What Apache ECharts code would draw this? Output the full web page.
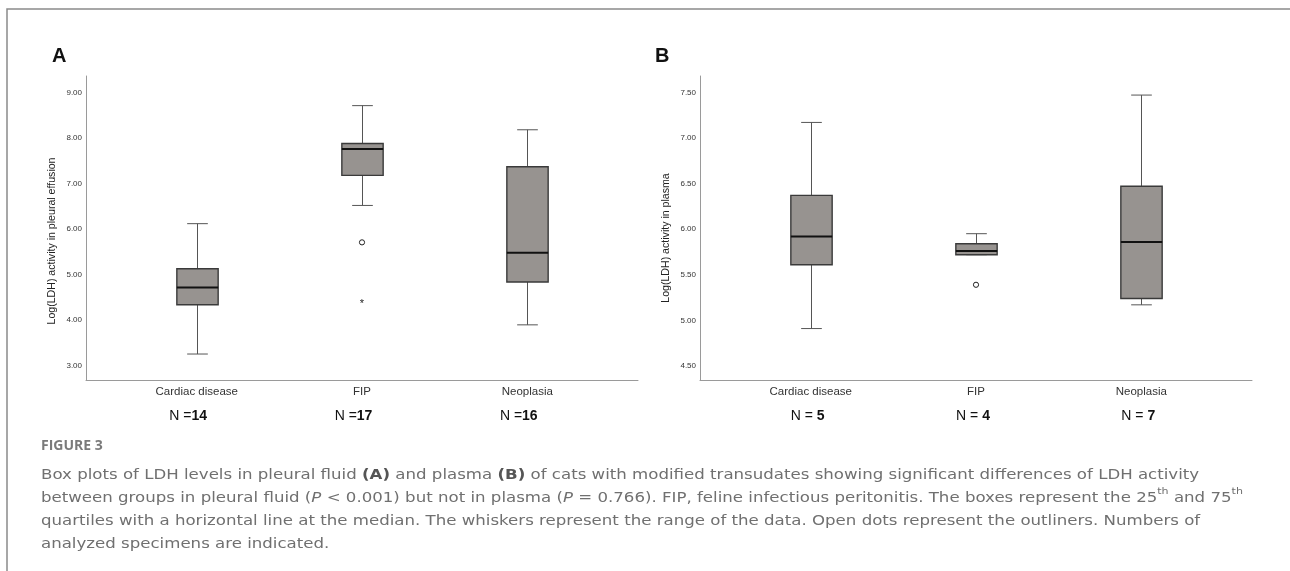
<!DOCTYPE html>
<html>
<head>
<meta charset="utf-8">
<script src="https://cdn.jsdelivr.net/npm/echarts@6/dist/echarts.min.js"></script>
<style>
  html, body { margin: 0; padding: 0; background: #fff; }
  #main { width: 1290px; height: 571px; }
</style>
</head>
<body>
<div id="main"></div>
<script>
// groups are placed at positions 1, 2, 3 of the x value axis
const groups = ['Cardiac disease', 'FIP', 'Neoplasia'];
const countsA = [14, 17, 16];
const countsB = [5, 4, 7];

// [min, Q1, median, Q3, max]
const boxA = [
  [3.26, 4.34, 4.72, 5.13, 6.12],
  [6.52, 7.18, 7.76, 7.88, 8.71],
  [3.90, 4.84, 5.48, 7.37, 8.18]
];
const boxB = [
  [4.91, 5.61, 5.92, 6.37, 7.17],
  [5.72, 5.72, 5.76, 5.84, 5.95],
  [5.17, 5.24, 5.86, 6.47, 7.47]
];

// [group position, value, marker]
const outliersA = [[2, 5.71, 'o'], [2, 4.40, '*']];
const outliersB = [[2, 5.39, 'o']];

const yTicksA = { min: 2.69, max: 9.36, step: 1 };
const yTicksB = { min: 4.346, max: 7.679, step: 0.5 };

const myChart = echarts.init(document.getElementById('main'));

function renderBox(params, api) {
  const x = api.value(0);
  const lo = api.coord([x, api.value(1)]);
  const q1 = api.coord([x, api.value(2)]);
  const md = api.coord([x, api.value(3)]);
  const q3 = api.coord([x, api.value(4)]);
  const hi = api.coord([x, api.value(5)]);
  const w = api.size([0.25, 0])[0];
  const half = w / 2, cap = w / 4;
  const cx = Math.round(lo[0]) + 0.5;
  const line = { stroke: '#555', lineWidth: 1 };
  return {
    type: 'group',
    children: [
      { type: 'line', shape: { x1: cx, y1: q3[1], x2: cx, y2: hi[1] }, style: line },
      { type: 'line', shape: { x1: cx, y1: lo[1], x2: cx, y2: q1[1] }, style: line },
      { type: 'line', shape: { x1: cx - cap, y1: hi[1], x2: cx + cap, y2: hi[1] }, style: line },
      { type: 'line', shape: { x1: cx - cap, y1: lo[1], x2: cx + cap, y2: lo[1] }, style: line },
      { type: 'rect', shape: { x: cx - half, y: q3[1], width: w, height: q1[1] - q3[1] },
        style: { fill: '#979390', stroke: '#3a3a3a', lineWidth: 1.4 } },
      { type: 'line', shape: { x1: cx - half, y1: md[1], x2: cx + half, y2: md[1] },
        style: { stroke: '#111', lineWidth: 2 } }
    ]
  };
}

function renderOutlier(params, api) {
  const p = api.coord([api.value(0), api.value(1)]);
  if (api.value(2) === '*') {
    return { type: 'text', style: { x: p[0], y: p[1] + 2, text: '*', fontSize: 11,
      fontFamily: 'Liberation Sans, Arial', fill: '#222', align: 'center', verticalAlign: 'middle' } };
  }
  return { type: 'circle', shape: { cx: p[0], cy: p[1], r: 2.6 },
    style: { fill: '#fff', stroke: '#222', lineWidth: 1 } };
}

function xAxisFor(grid, counts, sep, shift) {
  return {
    type: 'value', gridIndex: grid, min: 0.33, max: 3.67, splitNumber: 6,
    axisLine: { show: true, lineStyle: { color: '#9a9a9a', width: 1 } },
    axisTick: { show: false }, splitLine: { show: false },
    axisLabel: {
      margin: 0,
      formatter: function (v) {
        const r = Math.round(v);
        if (Math.abs(v - r) > 1e-6 || r < 1 || r > 3) return '';
        return '{c|' + groups[r - 1] + '}\n{n|N ' + sep + '}{b|' + counts[r - 1] + '}';
      },
      rich: {
        c: { fontSize: 11.5, color: '#333', lineHeight: 24, fontFamily: 'Liberation Sans, Arial' },
        n: { fontSize: 14, color: '#111', lineHeight: 24, fontFamily: 'Liberation Sans, Arial' },
        b: { fontSize: 14, color: '#111', lineHeight: 24, fontWeight: 'bold', fontFamily: 'Liberation Sans, Arial',
          padding: [0, shift, 0, 0] }
      }
    }
  };
}

function yAxisFor(grid, t, name, pad) {
  return {
    type: 'value', gridIndex: grid, min: t.min, max: t.max,
    name: name, nameLocation: 'middle', nameGap: 28,
    nameTextStyle: { fontSize: 10.6, color: '#222', fontFamily: 'Liberation Sans, Arial', padding: [0, pad, 0, 0] },
    axisLine: { show: true, lineStyle: { color: '#9a9a9a', width: 1 } },
    axisTick: { show: false }, splitLine: { show: false },
    axisLabel: {
      fontSize: 8, color: '#333', margin: 4, fontFamily: 'Liberation Sans, Arial',
      showMinLabel: false, showMaxLabel: false,
      formatter: function (v) {
        const k = v / t.step;
        if (Math.abs(k - Math.round(k)) > 1e-6) return '';
        return v.toFixed(2);
      }
    }
  };
}

const capFont = 'DejaVu Sans';
const capColor = '#707070';
const rich = {
  t: { fontSize: 13.5, fill: capColor, fontFamily: capFont, lineHeight: 23 },
  b: { fontSize: 13.5, fill: '#555', fontFamily: capFont, fontWeight: 'bold', lineHeight: 23 },
  i: { fontSize: 13.5, fill: capColor, fontFamily: capFont, fontStyle: 'italic', lineHeight: 23 },
  s: { fontSize: 9, fill: capColor, fontFamily: capFont, lineHeight: 23, verticalAlign: 'top', padding: [0, 0, 8, 0] }
};

const caption =
  '{t|Box plots of LDH levels in pleural fluid }{b|(A)}{t| and plasma }{b|(B)}{t| of cats with modified transudates showing significant differences of LDH activity}\n' +
  '{t|between groups in pleural fluid (}{i|P}{t| < 0.001) but not in plasma (}{i|P}{t| = 0.766). FIP, feline infectious peritonitis. The boxes represent the 25}{s|th}{t| and 75}{s|th}\n' +
  '{t|quartiles with a horizontal line at the median. The whiskers represent the range of the data. Open dots represent the outliners. Numbers of}\n' +
  '{t|analyzed specimens are indicated.}';

const option = {
  animation: false,
  grid: [
    { left: 86, top: 76, width: 552, height: 304 },
    { left: 700, top: 76, width: 552, height: 304 }
  ],
  xAxis: [xAxisFor(0, countsA, '=', 17), xAxisFor(1, countsB, '= ', 6)],
  yAxis: [
    yAxisFor(0, yTicksA, 'Log(LDH) activity in pleural effusion', 26),
    yAxisFor(1, yTicksB, 'Log(LDH) activity in plasma', 20)
  ],
  series: [
    { type: 'custom', xAxisIndex: 0, yAxisIndex: 0, renderItem: renderBox,
      encode: { x: 0, y: [1, 2, 3, 4, 5] },
      data: boxA.map((b, i) => [i + 1].concat(b)) },
    { type: 'custom', xAxisIndex: 1, yAxisIndex: 1, renderItem: renderBox,
      encode: { x: 0, y: [1, 2, 3, 4, 5] },
      data: boxB.map((b, i) => [i + 1].concat(b)) },
    { type: 'custom', xAxisIndex: 0, yAxisIndex: 0, renderItem: renderOutlier,
      encode: { x: 0, y: 1 }, dimensions: ['x', 'y', { name: 'm', type: 'ordinal' }],
      data: outliersA },
    { type: 'custom', xAxisIndex: 1, yAxisIndex: 1, renderItem: renderOutlier,
      encode: { x: 0, y: 1 }, dimensions: ['x', 'y', { name: 'm', type: 'ordinal' }],
      data: outliersB }
  ],
  graphic: [
    { type: 'polyline', shape: { points: [[7, 571], [7, 9], [1290, 9]] },
      style: { stroke: '#8a8a8a', lineWidth: 1.5, fill: null } },
    { type: 'text', left: 52, top: 46,
      style: { text: 'A', fontSize: 20, fontWeight: 'bold', fill: '#111', fontFamily: 'Liberation Sans, Arial' } },
    { type: 'text', left: 655, top: 46,
      style: { text: 'B', fontSize: 20, fontWeight: 'bold', fill: '#111', fontFamily: 'Liberation Sans, Arial' } },
    { type: 'text', x: 41, y: 439,
      style: { text: 'FIGURE 3', fontSize: 14, fontWeight: 'bold', fill: '#7a7a7a', fontFamily: 'Open Sans' } },
    { type: 'text', x: 41, y: 464, scaleX: 1.23,
      style: { text: caption, rich: rich } }
  ]
};

option && myChart.setOption(option);
</script>
</body>
</html>
